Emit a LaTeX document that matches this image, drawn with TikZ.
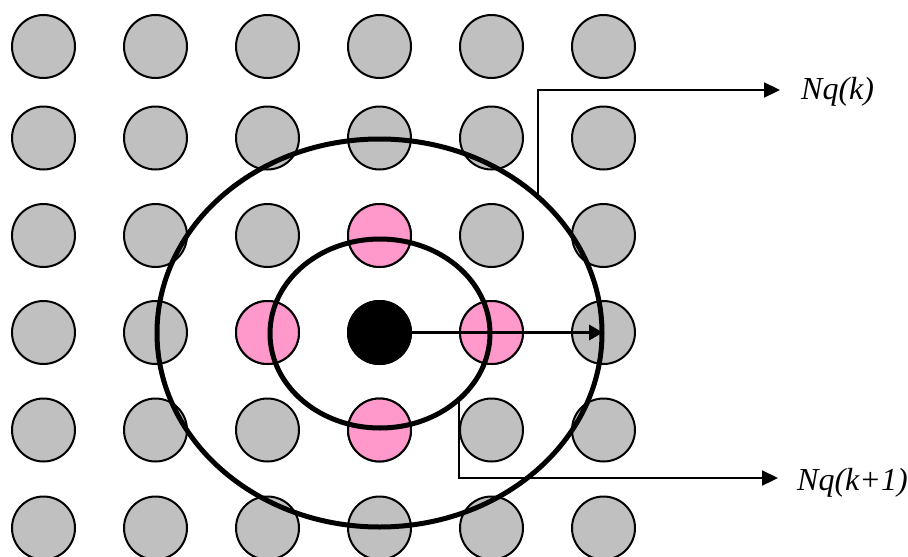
\documentclass[tikz,border=0pt]{standalone}
\usepackage{fontspec}
\setmainfont{Liberation Serif}
\usetikzlibrary{arrows.meta}
\definecolor{dotgray}{HTML}{C0C0C0}
\definecolor{dotpink}{HTML}{FF99CC}
\begin{document}
\begin{tikzpicture}[x=1pt,y=-1pt,
  dot/.style={circle,draw=black,line width=2pt,minimum size=63pt,inner sep=0pt,fill=dotgray},
  pinkdot/.style={dot,fill=dotpink},
  blackdot/.style={dot,fill=black},
  ring/.style={draw=black,line width=5pt},
  link/.style={draw=black,line width=2.3pt,-{Triangle[length=16pt,width=15pt]}},
  mainarrow/.style={draw=black,line width=3.5pt,-{Triangle[length=14pt,width=15pt]}},
  lab/.style={font=\fontsize{32}{38}\selectfont\itshape,inner sep=0pt,anchor=base west}]
\useasboundingbox (0,0) rectangle (908,557);
% grid of circles
\foreach \r/\y in {1/46.5,2/138,3/235.5,4/332.5,5/430,6/528}{
  \foreach \c/\x in {1/43.5,2/155.5,3/267.5,4/379.5,5/491.5,6/603.5}{
    \node[dot] (c\r\c) at (\x,\y) {};
  }
}
\node[pinkdot] at (c34) {};
\node[pinkdot] at (c43) {};
\node[pinkdot] at (c45) {};
\node[pinkdot] at (c54) {};
\node[blackdot] (center) at (c44) {};
% rings
\draw[ring] (380,333.5) ellipse [x radius=110, y radius=94.5];
\draw[ring] (379.5,333) ellipse [x radius=222.5, y radius=194];
% radius arrow
\coordinate (oute) at (603,332.5);
\draw[mainarrow] (center.east) -- (oute);
% labels
\node[lab] (labk) at (801,99) {Nq(k)};
\node[lab] (labk1) at (797,490) {Nq(k+1)};
\coordinate (kstart) at (538,197);
\coordinate (kcorner) at (538,90);
\coordinate (kend) at (780,90);
\coordinate (k1start) at (459,400);
\coordinate (k1corner) at (459,478);
\coordinate (k1end) at (778,478);
\draw[link] (kstart) -- (kcorner) -- (kend);
\draw[link] (k1start) -- (k1corner) -- (k1end);
\end{tikzpicture}
\end{document}
